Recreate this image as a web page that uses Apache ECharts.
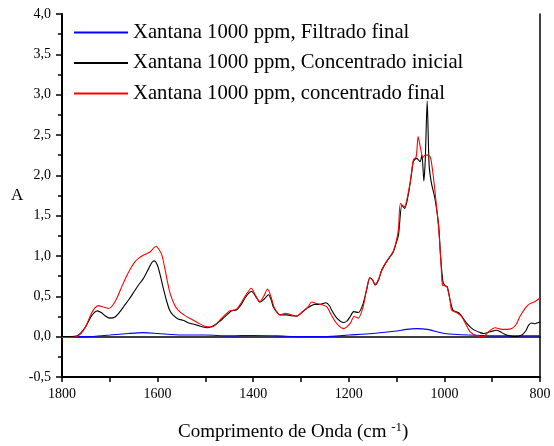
<!DOCTYPE html>
<html>
<head>
<meta charset="utf-8">
<script src="https://cdn.jsdelivr.net/npm/echarts@6/dist/echarts.min.js"></script>
<style>
  html, body { margin: 0; padding: 0; background: #fff; }
  #chart { width: 554px; height: 446px; }
</style>
</head>
<body>
<div id="chart"></div>
<script>
// FTIR spectra of xanthan gum 1000 ppm: [wavenumber (cm-1), absorbance]
const filtradoFinal = [
  [1800, 0.0], [1750, 0.0], [1700, 0.02], [1660, 0.04], [1630, 0.05], [1600, 0.04],
  [1550, 0.02], [1500, 0.02], [1450, 0.01], [1400, 0.015], [1350, 0.01], [1300, 0.0],
  [1250, 0.0], [1200, 0.02], [1150, 0.04], [1100, 0.07], [1080, 0.09], [1058, 0.1],
  [1035, 0.09], [1015, 0.06], [1000, 0.04], [950, 0.02], [900, 0.01], [850, 0.01], [800, 0.01]
];

const concentradoInicial = [
  [1800, 0.0], [1780, 0.0], [1768, 0.01], [1760, 0.05], [1750, 0.13], [1740, 0.24],
  [1732, 0.3], [1726, 0.32], [1718, 0.3], [1710, 0.26], [1700, 0.23], [1690, 0.24],
  [1680, 0.3], [1670, 0.38], [1660, 0.46], [1650, 0.55], [1640, 0.64], [1630, 0.72],
  [1620, 0.83], [1612, 0.92], [1607, 0.94], [1600, 0.88], [1594, 0.75], [1588, 0.6],
  [1582, 0.46], [1575, 0.33], [1568, 0.27], [1557, 0.22], [1545, 0.2], [1535, 0.17],
  [1522, 0.15], [1510, 0.13], [1497, 0.11], [1485, 0.13], [1475, 0.17], [1466, 0.21],
  [1455, 0.27], [1445, 0.32], [1435, 0.33], [1425, 0.4], [1417, 0.48], [1408, 0.55],
  [1403, 0.56], [1395, 0.5], [1386, 0.43], [1378, 0.46], [1368, 0.52], [1362, 0.45],
  [1358, 0.37], [1350, 0.3], [1344, 0.27], [1330, 0.27], [1320, 0.26], [1309, 0.255],
  [1298, 0.3], [1288, 0.35], [1271, 0.4], [1260, 0.4], [1248, 0.42], [1240, 0.38],
  [1236, 0.33], [1225, 0.23], [1211, 0.175], [1203, 0.2], [1197, 0.25], [1190, 0.31],
  [1180, 0.3], [1170, 0.41], [1162, 0.6], [1156, 0.73], [1150, 0.7], [1145, 0.64],
  [1138, 0.7], [1131, 0.83], [1120, 0.94], [1107, 1.05], [1100, 1.18], [1096, 1.26],
  [1089, 1.63], [1083, 1.59], [1075, 1.78], [1068, 2.05], [1065, 2.17], [1058, 2.21],
  [1051, 2.17], [1047, 2.25], [1043, 1.93], [1040, 2.2], [1036, 2.92], [1032, 2.13],
  [1027, 1.9], [1020, 1.72], [1012, 1.38], [1008, 1.0], [1003, 0.68], [998, 0.63],
  [994, 0.62], [988, 0.45], [982, 0.33], [971, 0.3], [967, 0.28], [953, 0.165],
  [940, 0.09], [925, 0.05], [918, 0.04], [905, 0.06], [890, 0.08], [880, 0.05],
  [870, 0.02], [852, 0.0], [838, 0.02], [830, 0.07], [824, 0.14], [818, 0.17],
  [812, 0.16], [806, 0.17], [800, 0.18]
];

const concentradoFinal = [
  [1800, -0.01], [1785, -0.01], [1770, 0.0], [1760, 0.04], [1750, 0.13], [1740, 0.27],
  [1732, 0.35], [1724, 0.385], [1715, 0.37], [1703, 0.35], [1695, 0.38], [1685, 0.48],
  [1675, 0.62], [1665, 0.75], [1655, 0.86], [1647, 0.93], [1640, 0.97], [1630, 1.01],
  [1616, 1.05], [1608, 1.1], [1603, 1.12], [1597, 1.08], [1591, 1.01], [1585, 0.85],
  [1580, 0.7], [1574, 0.54], [1565, 0.4], [1557, 0.33], [1545, 0.27], [1529, 0.215],
  [1515, 0.17], [1501, 0.13], [1487, 0.12], [1478, 0.15], [1466, 0.23], [1455, 0.29],
  [1449, 0.32], [1435, 0.34], [1425, 0.42], [1415, 0.52], [1404, 0.6], [1396, 0.52],
  [1386, 0.43], [1378, 0.5], [1370, 0.59], [1363, 0.5], [1356, 0.36], [1344, 0.27],
  [1333, 0.29], [1320, 0.27], [1309, 0.255], [1295, 0.32], [1285, 0.37], [1278, 0.43],
  [1267, 0.41], [1253, 0.39], [1246, 0.37], [1240, 0.31], [1230, 0.2], [1220, 0.13],
  [1211, 0.1], [1197, 0.165], [1189, 0.25], [1180, 0.23], [1170, 0.37], [1163, 0.58],
  [1156, 0.73], [1150, 0.7], [1145, 0.65], [1138, 0.71], [1131, 0.82], [1120, 0.94],
  [1107, 1.06], [1100, 1.2], [1096, 1.34], [1092, 1.65], [1084, 1.61], [1072, 1.9],
  [1065, 2.19], [1059, 2.23], [1055, 2.48], [1050, 2.34], [1045, 2.22], [1040, 2.25],
  [1034, 2.25], [1029, 2.22], [1023, 1.98], [1018, 1.7], [1012, 1.34], [1007, 0.9],
  [1004, 0.64], [998, 0.63], [994, 0.61], [988, 0.45], [985, 0.33], [975, 0.3],
  [964, 0.25], [955, 0.15], [946, 0.06], [932, 0.01], [919, 0.0], [908, 0.06],
  [894, 0.11], [880, 0.09], [870, 0.09], [859, 0.1], [850, 0.15], [842, 0.25],
  [830, 0.36], [821, 0.41], [812, 0.43], [800, 0.48]
];

const seriesNames = [
  'Xantana 1000 ppm, Filtrado final',
  'Xantana 1000 ppm, Concentrado inicial',
  'Xantana 1000 ppm, concentrado final'
];
const seriesColors = ['#0000ff', '#000000', '#ff0000'];

const FONT = '"Liberation Serif", "Times New Roman", serif';
const comma = v => v.toFixed(1).replace('.', ',');

const chart = echarts.init(document.getElementById('chart'), null, { renderer: 'canvas' });

const frameLine = { show: true, lineStyle: { color: '#000', width: 1.5 } };

chart.setOption({
  animation: false,
  backgroundColor: '#fff',
  grid: { left: 62, right: 14, top: 14, bottom: 69, containLabel: false },
  legend: {
    orient: 'vertical',
    left: 73,
    top: 22,
    padding: 0,
    itemWidth: 54,
    itemHeight: 1,
    itemGap: 9.5,
    data: seriesNames,
    textStyle: { fontFamily: FONT, fontSize: 20.7, lineHeight: 20, color: '#000' }
  },
  xAxis: [
    {
      type: 'value',
      inverse: true,
      min: 800,
      max: 1800,
      interval: 200,
      position: 'bottom',
      axisLine: { show: true, onZero: false, lineStyle: { color: '#000', width: 2 } },
      axisTick: { show: true, inside: false, length: 5, lineStyle: { color: '#000', width: 1.5 } },
      minorTick: { show: true, splitNumber: 2, length: 5, lineStyle: { color: '#000', width: 1.5 } },
      axisLabel: { margin: 10, fontFamily: FONT, fontSize: 14, color: '#000', formatter: v => String(v) },
      splitLine: { show: false }
    },
    {
      type: 'value',
      inverse: true,
      min: 800,
      max: 1800,
      position: 'top',
      axisLine: frameLine,
      axisTick: { show: false },
      axisLabel: { show: false },
      splitLine: { show: false }
    }
  ],
  yAxis: [
    {
      type: 'value',
      min: -0.5,
      max: 4.0,
      interval: 0.5,
      position: 'left',
      axisLine: { show: true, onZero: false, lineStyle: { color: '#000', width: 2 } },
      axisTick: { show: true, inside: false, length: 6, lineStyle: { color: '#000', width: 1.5 } },
      minorTick: { show: true, splitNumber: 2, length: 4, lineStyle: { color: '#000', width: 1.5 } },
      axisLabel: { margin: 11, fontFamily: FONT, fontSize: 14, color: '#000', formatter: comma },
      splitLine: { show: false }
    },
    {
      type: 'value',
      min: -0.5,
      max: 4.0,
      position: 'right',
      axisLine: frameLine,
      axisTick: { show: false },
      axisLabel: { show: false },
      splitLine: { show: false }
    }
  ],
  series: [filtradoFinal, concentradoInicial, concentradoFinal].map((data, i) => ({
    name: seriesNames[i],
    type: 'line',
    xAxisIndex: 0,
    yAxisIndex: 0,
    data: data,
    symbol: 'none',
    smooth: 0.25,
    color: seriesColors[i],
    lineStyle: { color: seriesColors[i], width: 1.1 },
    z: 2 + i
  })),
  graphic: [
    {
      type: 'text',
      left: 11,
      top: 187,
      style: { text: 'A', fontFamily: FONT, fontSize: 17, fill: '#000' }
    },
    {
      type: 'text',
      left: 178,
      top: 421,
      style: {
        text: 'Comprimento de Onda (cm {sup|-1})',
        fontFamily: FONT,
        fontSize: 19,
        fill: '#000',
        rich: {
          sup: { fontFamily: FONT, fontSize: 13, fill: '#000', verticalAlign: 'top', padding: [0, 0, 9, 0] }
        }
      }
    }
  ]
});
</script>
</body>
</html>
